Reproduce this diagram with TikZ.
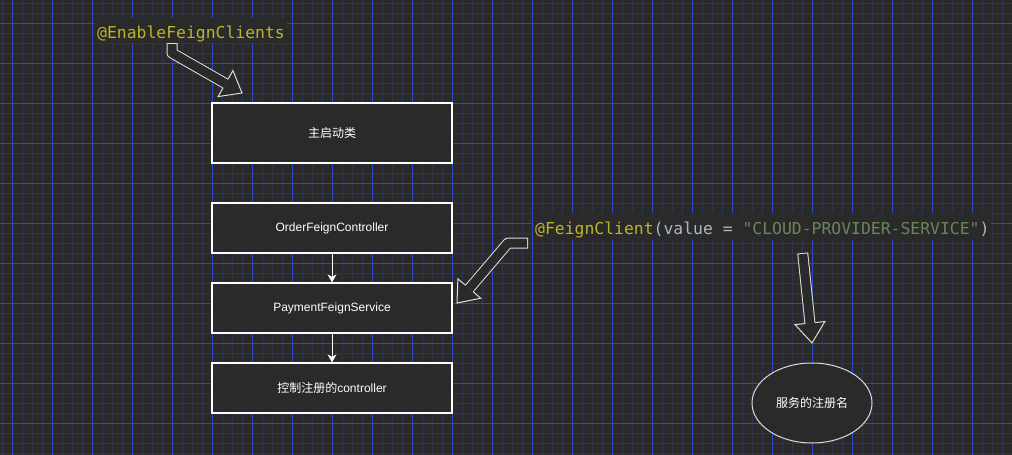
\documentclass[tikz,border=0pt]{standalone}
\usepackage{fontspec}
\setmainfont{Liberation Sans}
\newfontfamily\cjk{Noto Sans CJK SC}
\newfontfamily\codefont{DejaVu Sans Mono}
\usetikzlibrary{calc,arrows.meta,shapes.geometric}
\definecolor{bgc}{HTML}{2A2A2A}
\definecolor{minorc}{HTML}{32344C}
\definecolor{majorc}{HTML}{2A48C8}
\definecolor{annc}{HTML}{BBB529}
\definecolor{txtc}{HTML}{A9B7C6}
\definecolor{strc}{HTML}{6A8759}
\definecolor{arrowc}{HTML}{DCDCDC}
\tikzset{
  minorline/.style={minorc, line width=1pt},
  majorline/.style={majorc, line width=1pt},
  box/.style={draw=white, line width=1.2pt, fill=bgc, text=white, minimum width=240pt,
    font=\fontsize{12}{14}\selectfont, inner sep=0pt},
  codebox/.style={fill=bgc, inner xsep=2pt, inner ysep=0pt, anchor=base west},
  conn/.style={white, line width=1pt, -{Stealth[length=8pt,width=9pt,inset=2.5pt]}},
  shaftout/.style={arrowc, line width=11pt, line join=round},
  shaftin/.style={bgc, line width=9pt, line join=round, shorten <=1pt},
  headstyle/.style={fill=bgc, draw=arrowc, line width=1pt, line join=miter},
}
\newcommand\arrowhead[2]{% #1 base coordinate, #2 tip coordinate
  \filldraw[headstyle] ($(#1)!5pt!90:(#2)$) -- ($(#1)!15pt!90:(#2)$) -- (#2)
     -- ($(#1)!15pt!-90:(#2)$) -- ($(#1)!5pt!-90:(#2)$);}
\begin{document}
\begin{tikzpicture}[x=1pt,y=-1pt]
\useasboundingbox (0,0) rectangle (1012,455);
\fill[bgc] (0,0) rectangle (1012,455);
% grid
\foreach \x in {2,12,...,1012} \draw[minorline] (\x,0) -- (\x,455);
\foreach \y in {3,13,...,455} \draw[minorline] (0,\y) -- (1012,\y);
\foreach \x in {12,52,...,1012} \draw[majorline] (\x,0) -- (\x,455);
\foreach \y in {23,63,...,455} \draw[majorline] (0,\y) -- (1012,\y);

% code annotations
\node[codebox, text height=20pt, text depth=5pt] (enable) at (95,38)
  {\codefont\fontsize{16.4}{18}\selectfont\color{annc}@EnableFeignClients};
\node[codebox, text height=21pt, text depth=6pt] (feign) at (533,234)
  {\codefont\fontsize{16.4}{18}\selectfont{\color{annc}@FeignClient}{\color{txtc}(value = }{\color{strc}"CLOUD-PROVIDER-SERVICE"}{\color{txtc})}};

% boxes
\node[box, minimum height=60pt] (main) at (332,133) {\cjk 主启动类};
\node[box, minimum height=50pt] (order) at (332,228) {OrderFeignController};
\node[box, minimum height=50pt] (pay) at (332,308) {PaymentFeignService};
\node[box, minimum height=50pt] (ctrl) at (332,388) {{\cjk 控制注册的}controller};
\node[ellipse, draw=arrowc, line width=1pt, fill=bgc, text=white,
  minimum width=120pt, minimum height=80pt, inner sep=0pt,
  font=\fontsize{12}{14}\selectfont] (svc) at (812,403) {\cjk 服务的注册名};

% connectors
\draw[conn] (order) -- (pay);
\draw[conn] (pay) -- (ctrl);

% hollow arrow 1
\coordinate (a1s) at (172,43);
\coordinate (a1c) at (172,53);
\coordinate (a1t) at (242,93);
\coordinate (a1b) at ($(a1t)!19pt!(a1c)$);
\draw[shaftout] (a1s) -- (a1c) -- (a1b);
\draw[shaftin] (a1s) -- (a1c) -- (a1b);
\arrowhead{a1b}{a1t}

% hollow arrow 2
\coordinate (a2s) at (528,243);
\coordinate (a2c) at (508,243);
\coordinate (a2t) at (457,303);
\coordinate (a2b) at ($(a2t)!19pt!(a2c)$);
\draw[shaftout] (a2s) -- (a2c) -- (a2b);
\draw[shaftin] (a2s) -- (a2c) -- (a2b);
\arrowhead{a2b}{a2t}

% hollow arrow 3
\coordinate (a3s) at (802.7,253);
\coordinate (a3t) at (812,343);
\coordinate (a3b) at ($(a3t)!20pt!(a3s)$);
\draw[shaftout] (a3s) -- (a3b);
\draw[shaftin] (a3s) -- (a3b);
\arrowhead{a3b}{a3t}
\end{tikzpicture}
\end{document}
